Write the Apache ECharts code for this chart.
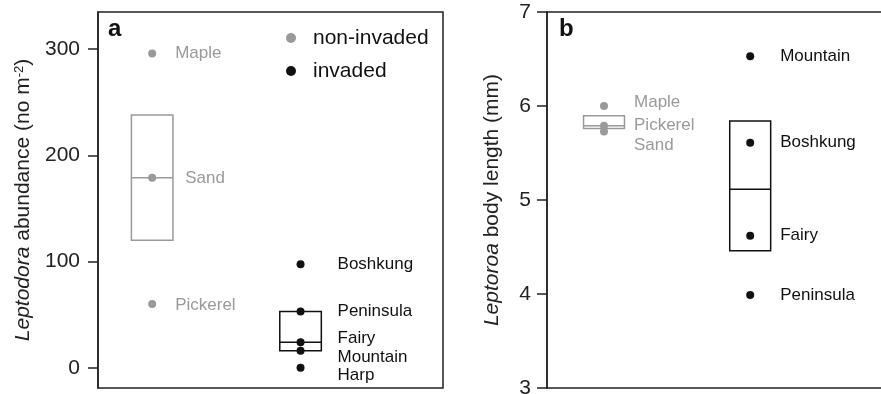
<!DOCTYPE html>
<html>
<head>
<meta charset="utf-8">
<script src="https://cdn.jsdelivr.net/npm/echarts@6/dist/echarts.min.js"></script>
<style>html,body{margin:0;padding:0;background:#fff}#c{width:881px;height:394px}</style>
</head>
<body>
<div id="c"></div>
<script>
// ---------- DATA ----------
const groupNames = ['non-invaded', 'invaded'];
const groupX = [1, 2];

// Panel a: Leptodora abundance (no m-2)
const aNonNames = ['Maple', 'Sand', 'Pickerel'];
const aNonValues = [296, 179, 60];
const aInvNames = ['Boshkung', 'Peninsula', 'Fairy', 'Mountain', 'Harp'];
const aInvValues = [97.5, 53, 24, 16, 0];
const aBoxNon = [120, 179, 238];   // lower hinge, median, upper hinge
const aBoxInv = [16, 24, 53];
const aTicks = [0, 100, 200, 300];

// Panel b: Leptodora body length (mm)
const bNonNames = ['Maple', 'Pickerel', 'Sand'];
const bNonValues = [6.0, 5.79, 5.73];
const bInvNames = ['Mountain', 'Boshkung', 'Fairy', 'Peninsula'];
const bInvValues = [6.53, 5.61, 4.62, 3.99];
const bBoxNon = [5.76, 5.79, 5.895];
const bBoxInv = [4.46, 5.115, 5.84];
const bTicks = [3, 4, 5, 6, 7];

// ---------- STYLE ----------
const FONT = "'Liberation Sans', Arial, Helvetica, sans-serif";
const GRAY = '#9a9a9a';
const BLACK = '#111111';
const AXIS = '#222222';
const BOX_HW = 0.14;
// label nudges: [distance from dot, vertical offset]
const labelNudge = {
  a0: { Maple: [19, 0], Sand: [29, 1], Pickerel: [19, 1] },
  a1: { Boshkung: [33, 0], Peninsula: [33, 0], Fairy: [33, -4], Mountain: [33, 6], Harp: [33, 7] },
  b0: { Maple: [26, -4], Pickerel: [26, 0], Sand: [26, 14] },
  b1: { Mountain: [26, 0], Boshkung: [26, 0], Fairy: [26, 0], Peninsula: [26, 0] }
};

function pts(x, names, values, nudgeKey) {
  return names.map((n, i) => {
    const nd = labelNudge[nudgeKey][n] || [20, 0];
    return {
      name: n,
      value: [x, values[i]],
      label: { distance: nd[0], offset: [0, nd[1]] }
    };
  });
}

function renderBox(params, api) {
  const x = api.value(0), q1 = api.value(1), med = api.value(2), q3 = api.value(3);
  const p1 = api.coord([x - BOX_HW, q3]);
  const p2 = api.coord([x + BOX_HW, q1]);
  const m1 = api.coord([x - BOX_HW, med]);
  const m2 = api.coord([x + BOX_HW, med]);
  const color = api.visual('color');
  return {
    type: 'group',
    children: [
      { type: 'rect', shape: { x: p1[0], y: p1[1], width: p2[0] - p1[0], height: p2[1] - p1[1] },
        style: { fill: 'none', stroke: color, lineWidth: 1.5 } },
      { type: 'line', shape: { x1: m1[0], y1: m1[1], x2: m2[0], y2: m2[1] },
        style: { stroke: color, lineWidth: 1.5 } }
    ]
  };
}

function boxSeries(idx, x, box, color) {
  return {
    type: 'custom', name: 'box' + idx + color, xAxisIndex: idx, yAxisIndex: idx,
    renderItem: renderBox, itemStyle: { color: color },
    encode: { x: 0, y: [1, 2, 3] },
    data: [[x, box[0], box[1], box[2]]], z: 2, silent: true
  };
}

function scatterSeries(idx, name, data, color) {
  return {
    type: 'scatter', name: name, xAxisIndex: idx, yAxisIndex: idx,
    symbol: 'circle', symbolSize: 8, itemStyle: { color: color, opacity: 1 }, z: 3,
    label: { show: true, position: 'right', formatter: '{b}', color: color,
             fontSize: 17, fontFamily: FONT, opacity: 1 },
    data: data
  };
}

function yAxisCommon() {
  return {
    type: 'value',
    axisLine: { show: true, lineStyle: { color: AXIS, width: 1.5 } },
    axisTick: { show: true, length: 10, lineStyle: { color: AXIS, width: 1.5 } },
    axisLabel: { fontSize: 21, color: AXIS, fontFamily: FONT, margin: 18 },
    splitLine: { show: false },
    nameLocation: 'middle', nameRotate: 90,
    nameTextStyle: {
      fontSize: 21, color: AXIS, fontFamily: FONT,
      rich: {
        i: { fontStyle: 'italic', fontSize: 21, color: AXIS, fontFamily: FONT },
        s: { fontSize: 13, color: AXIS, fontFamily: FONT, verticalAlign: 'top', padding: [0, 0, 8, 0] }
      }
    }
  };
}

const chart = echarts.init(document.getElementById('c'), null, { renderer: 'canvas' });
const option = {
  animation: false,
  backgroundColor: '#fff',
  textStyle: { fontFamily: FONT },
  title: [
    { text: 'a', left: 108, top: 17, padding: 0, textStyle: { fontSize: 24, fontWeight: 'bold', color: BLACK, fontFamily: FONT } },
    { text: 'b', left: 559, top: 17, padding: 0, textStyle: { fontSize: 24, fontWeight: 'bold', color: BLACK, fontFamily: FONT } }
  ],
  legend: {
    data: groupNames, orient: 'vertical', left: 286, top: 26, padding: 0,
    icon: 'circle', itemWidth: 34, itemHeight: 10, itemGap: 9,
    textStyle: { fontSize: 21, color: BLACK, fontFamily: FONT, lineHeight: 24 },
    selectedMode: false
  },
  grid: [
    { left: 98, top: 12, width: 345, height: 376, show: true, borderColor: AXIS, borderWidth: 1.5,
      containLabel: false, outerBoundsMode: 'none' },
    { left: 547, top: 12, width: 345, height: 376, show: true, borderColor: AXIS, borderWidth: 1.5,
      containLabel: false, outerBoundsMode: 'none' }
  ],
  xAxis: [
    { type: 'value', gridIndex: 0, min: 0.635, max: 2.96, show: false },
    { type: 'value', gridIndex: 1, min: 0.61, max: 2.97, show: false }
  ],
  yAxis: [
    Object.assign(yAxisCommon(), {
      gridIndex: 0, min: -19, max: 335,
      name: '{i|Leptodora} abundance (no m{s|-2})', nameGap: 64,
      axisLabel: Object.assign(yAxisCommon().axisLabel, { customValues: aTicks }),
      axisTick: Object.assign(yAxisCommon().axisTick, { customValues: aTicks })
    }),
    Object.assign(yAxisCommon(), {
      gridIndex: 1, min: bTicks[0], max: bTicks[bTicks.length - 1], interval: 1,
      name: '{i|Leptoroa} body length (mm)', nameGap: 44,
      axisLabel: Object.assign(yAxisCommon().axisLabel, { margin: 16, showMinLabel: true, showMaxLabel: true })
    })
  ],
  series: [
    boxSeries(0, groupX[0], aBoxNon, GRAY),
    boxSeries(0, groupX[1], aBoxInv, BLACK),
    boxSeries(1, groupX[0], bBoxNon, GRAY),
    boxSeries(1, groupX[1], bBoxInv, BLACK),
    scatterSeries(0, groupNames[0], pts(groupX[0], aNonNames, aNonValues, 'a0'), GRAY),
    scatterSeries(0, groupNames[1], pts(groupX[1], aInvNames, aInvValues, 'a1'), BLACK),
    scatterSeries(1, groupNames[0], pts(groupX[0], bNonNames, bNonValues, 'b0'), GRAY),
    scatterSeries(1, groupNames[1], pts(groupX[1], bInvNames, bInvValues, 'b1'), BLACK)
  ]
};
chart.setOption(option);
</script>
</body>
</html>
